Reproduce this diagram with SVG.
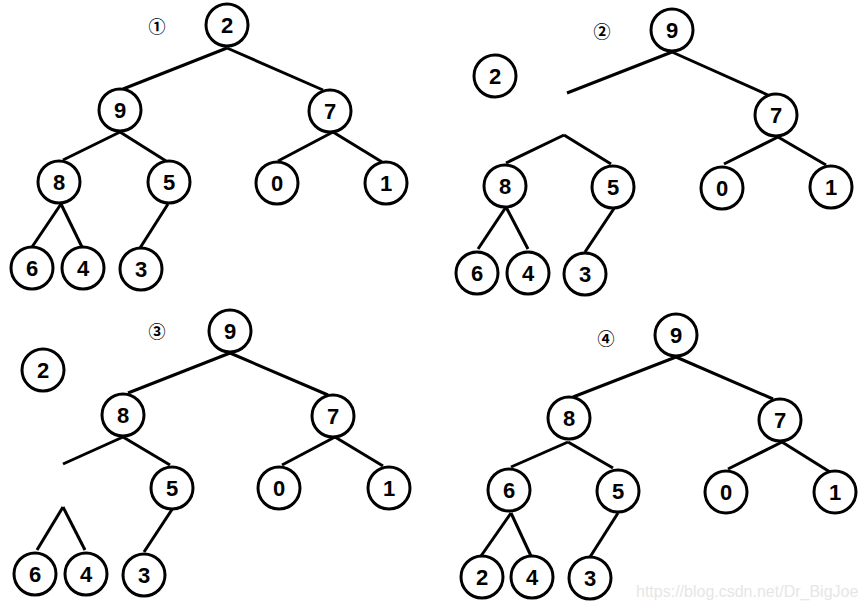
<svg xmlns="http://www.w3.org/2000/svg" width="866" height="608" viewBox="0 0 866 608">
<style>
.n circle{fill:#fff;stroke:#000;stroke-width:3}
.n text{font-family:"Liberation Sans",Arial,sans-serif;font-weight:bold;font-size:22px;text-anchor:middle;fill:#000}
.e line{stroke:#000;stroke-width:3;stroke-linecap:butt}
.lab{font-family:"Noto Sans CJK SC","DejaVu Sans",sans-serif;font-weight:bold;font-size:17px;text-anchor:middle;fill:#000}
.wm{font-family:"Liberation Sans",Arial,sans-serif;font-size:16px;fill:#e6e6e6}
</style>
<rect width="866" height="608" fill="#fff"/>

<!-- Panel 1 -->
<g id="p1-edges" class="e">
<line x1="227" y1="48" x2="123" y2="89"/>
<line x1="227" y1="48" x2="323" y2="90"/>
<line x1="120" y1="132" x2="63" y2="160"/>
<line x1="120" y1="132" x2="166" y2="161"/>
<line x1="333" y1="132" x2="278" y2="161"/>
<line x1="333" y1="132" x2="382" y2="162"/>
<line x1="61" y1="204" x2="32" y2="247"/>
<line x1="61" y1="204" x2="82" y2="247"/>
<line x1="168" y1="204" x2="140" y2="248"/>
</g>
<text class="lab" x="157" y="33">①</text>
<g id="p1-n2" class="n"><circle cx="227" cy="25" r="21"/><text x="227" y="33">2</text></g>
<g id="p1-n9" class="n"><circle cx="120" cy="110" r="21"/><text x="120" y="118">9</text></g>
<g id="p1-n7" class="n"><circle cx="330" cy="111" r="21"/><text x="330" y="119">7</text></g>
<g id="p1-n8" class="n"><circle cx="59" cy="182" r="21"/><text x="59" y="190">8</text></g>
<g id="p1-n5" class="n"><circle cx="169" cy="182" r="21"/><text x="169" y="190">5</text></g>
<g id="p1-n0" class="n"><circle cx="277" cy="183" r="21"/><text x="277" y="191">0</text></g>
<g id="p1-n1" class="n"><circle cx="386" cy="183" r="21"/><text x="386" y="191">1</text></g>
<g id="p1-n6" class="n"><circle cx="32" cy="268" r="21"/><text x="32" y="276">6</text></g>
<g id="p1-n4" class="n"><circle cx="83" cy="268" r="21"/><text x="83" y="276">4</text></g>
<g id="p1-n3" class="n"><circle cx="141" cy="269" r="21"/><text x="141" y="277">3</text></g>

<!-- Panel 2 -->
<g id="p2-edges" class="e">
<line x1="672" y1="52" x2="567" y2="93"/>
<line x1="672" y1="52" x2="768" y2="95"/>
<line x1="564" y1="135" x2="506" y2="163"/>
<line x1="564" y1="135" x2="611" y2="164"/>
<line x1="778" y1="137" x2="724" y2="164"/>
<line x1="778" y1="137" x2="826" y2="165"/>
<line x1="506" y1="207" x2="478" y2="249"/>
<line x1="506" y1="207" x2="528" y2="249"/>
<line x1="615" y1="207" x2="585" y2="252"/>
</g>
<text class="lab" x="602" y="38">②</text>
<g id="p2-n9" class="n"><circle cx="672" cy="30" r="21"/><text x="672" y="38">9</text></g>
<g id="p2-n2" class="n"><circle cx="495" cy="76" r="21"/><text x="495" y="84">2</text></g>
<g id="p2-n7" class="n"><circle cx="776" cy="115" r="21"/><text x="776" y="123">7</text></g>
<g id="p2-n8" class="n"><circle cx="505" cy="186" r="21"/><text x="505" y="194">8</text></g>
<g id="p2-n5" class="n"><circle cx="613" cy="187" r="21"/><text x="613" y="195">5</text></g>
<g id="p2-n0" class="n"><circle cx="722" cy="188" r="21"/><text x="722" y="196">0</text></g>
<g id="p2-n1" class="n"><circle cx="831" cy="187" r="21"/><text x="831" y="195">1</text></g>
<g id="p2-n6" class="n"><circle cx="477" cy="273" r="21"/><text x="477" y="281">6</text></g>
<g id="p2-n4" class="n"><circle cx="528" cy="273" r="21"/><text x="528" y="281">4</text></g>
<g id="p2-n3" class="n"><circle cx="585" cy="274" r="21"/><text x="585" y="282">3</text></g>

<!-- Panel 3 -->
<g id="p3-edges" class="e">
<line x1="230" y1="353" x2="128" y2="393"/>
<line x1="230" y1="353" x2="328" y2="395"/>
<line x1="123" y1="437" x2="63" y2="464"/>
<line x1="123" y1="437" x2="170" y2="465"/>
<line x1="63" y1="507" x2="37" y2="550"/>
<line x1="63" y1="507" x2="85" y2="550"/>
<line x1="173" y1="508" x2="144" y2="552"/>
<line x1="335" y1="437" x2="282" y2="465"/>
<line x1="335" y1="437" x2="383" y2="466"/>
</g>
<text class="lab" x="157" y="338">③</text>
<g id="p3-n9" class="n"><circle cx="230" cy="331" r="21"/><text x="230" y="339">9</text></g>
<g id="p3-n2" class="n"><circle cx="43" cy="370" r="21"/><text x="43" y="378">2</text></g>
<g id="p3-n8" class="n"><circle cx="123" cy="415" r="21"/><text x="123" y="423">8</text></g>
<g id="p3-n7" class="n"><circle cx="333" cy="416" r="21"/><text x="333" y="424">7</text></g>
<g id="p3-n5" class="n"><circle cx="172" cy="488" r="21"/><text x="172" y="496">5</text></g>
<g id="p3-n0" class="n"><circle cx="279" cy="488" r="21"/><text x="279" y="496">0</text></g>
<g id="p3-n1" class="n"><circle cx="389" cy="488" r="21"/><text x="389" y="496">1</text></g>
<g id="p3-n6" class="n"><circle cx="35" cy="574" r="21"/><text x="35" y="582">6</text></g>
<g id="p3-n4" class="n"><circle cx="86" cy="574" r="21"/><text x="86" y="582">4</text></g>
<g id="p3-n3" class="n"><circle cx="144" cy="575" r="21"/><text x="144" y="583">3</text></g>

<!-- Panel 4 -->
<g id="p4-edges" class="e">
<line x1="676" y1="357" x2="573" y2="397"/>
<line x1="676" y1="357" x2="773" y2="399"/>
<line x1="568" y1="442" x2="511" y2="467"/>
<line x1="568" y1="442" x2="613" y2="468"/>
<line x1="782" y1="442" x2="728" y2="469"/>
<line x1="782" y1="442" x2="830" y2="472"/>
<line x1="511" y1="513" x2="481" y2="556"/>
<line x1="511" y1="513" x2="531" y2="556"/>
<line x1="618" y1="513" x2="590" y2="557"/>
</g>
<text class="lab" x="606" y="345">④</text>
<g id="p4-n9" class="n"><circle cx="676" cy="335" r="21"/><text x="676" y="343">9</text></g>
<g id="p4-n8" class="n"><circle cx="569" cy="418" r="21"/><text x="569" y="426">8</text></g>
<g id="p4-n7" class="n"><circle cx="780" cy="420" r="21"/><text x="780" y="428">7</text></g>
<g id="p4-n6" class="n"><circle cx="509" cy="490" r="21"/><text x="509" y="498">6</text></g>
<g id="p4-n5" class="n"><circle cx="618" cy="491" r="21"/><text x="618" y="499">5</text></g>
<g id="p4-n0" class="n"><circle cx="726" cy="492" r="21"/><text x="726" y="500">0</text></g>
<g id="p4-n1" class="n"><circle cx="835" cy="492" r="21"/><text x="835" y="500">1</text></g>
<g id="p4-n2" class="n"><circle cx="482" cy="577" r="21"/><text x="482" y="585">2</text></g>
<g id="p4-n4" class="n"><circle cx="532" cy="577" r="21"/><text x="532" y="585">4</text></g>
<g id="p4-n3" class="n"><circle cx="590" cy="578" r="21"/><text x="590" y="586">3</text></g>

<text class="wm" x="636" y="597">https://blog.csdn.net/Dr_BigJoe</text>
</svg>
